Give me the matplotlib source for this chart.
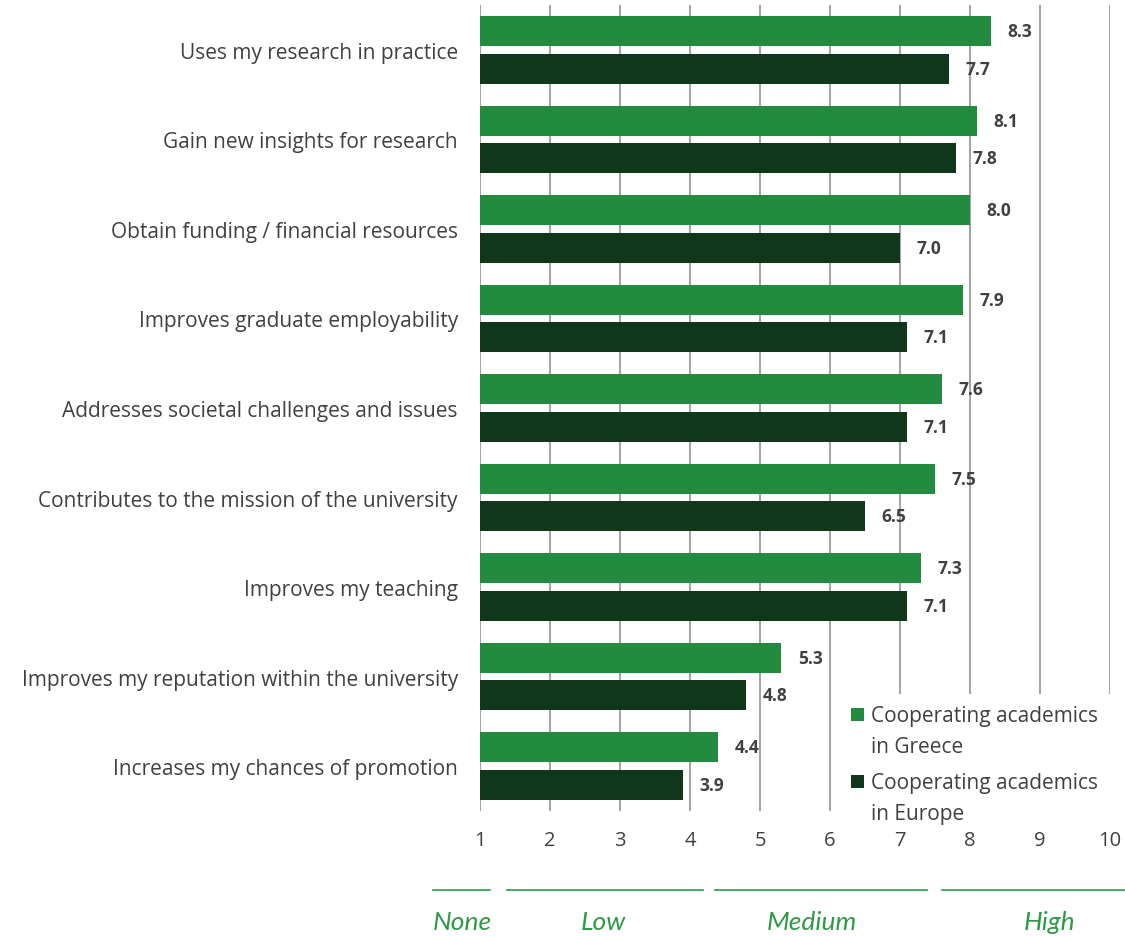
import numpy as np
import matplotlib.pyplot as plt
from matplotlib.lines import Line2D
from matplotlib.patches import Rectangle
from matplotlib.transforms import blended_transform_factory

# data
categories = ['Uses my research in practice',
              'Gain new insights for research',
              'Obtain funding / financial resources',
              'Improves graduate employability',
              'Addresses societal challenges and issues',
              'Contributes to the mission of the university',
              'Improves my teaching',
              'Improves my reputation within the university',
              'Increases my chances of promotion']
greece = [8.3, 8.1, 8.0, 7.9, 7.6, 7.5, 7.3, 5.3, 4.4]
europe = [7.7, 7.8, 7.0, 7.1, 7.1, 6.5, 7.1, 4.8, 3.9]
series_names = ['Cooperating academics\nin Greece', 'Cooperating academics\nin Europe']
xticks = [1, 2, 3, 4, 5, 6, 7, 8, 9, 10]
# scale bands under the axis: label, line start, line end, label x (scale units)
band_names = ['None', 'Low', 'Medium', 'High']
band_start = [0.33, 1.39, 4.36, 7.6]
band_end = [1.14, 4.19, 7.39, 10.21]
band_text_x = [0.74, 2.76, 5.74, 9.13]

c_gr = '#238B3F'
c_eu = '#10371A'
c_txt = '#404040'
c_band = '#2E9A44'

plt.rcParams['font.family'] = ['Open Sans', 'DejaVu Sans']

W, H = 1125, 937
fig = plt.figure(figsize=(W/100, H/100), dpi=100)
ax = fig.add_axes([480/W, 1-812/H, 630/W, 806/H])

def fx(px):
    return px / W

def fy(py):
    return 1 - py / H

y = np.arange(len(categories))
h = 0.335
off = 0.21
base = 1
g = np.array(greece) - base
e = np.array(europe) - base
ax.barh(y - off, g, height=h, left=base, color=c_gr, zorder=2)
ax.barh(y + off, e, height=h, left=base, color=c_eu, zorder=2)

for yi, v in zip(y, greece):
    ax.text(v + 0.24, yi - off, '%.1f' % v, va='center', ha='left',
            fontsize=12.5, fontweight='bold', color=c_txt, zorder=3)
for yi, v in zip(y, europe):
    ax.text(v + 0.24, yi + off, '%.1f' % v, va='center', ha='left',
            fontsize=12.5, fontweight='bold', color=c_txt, zorder=3)

ax.set_xlim(1, 10)
ax.set_ylim(len(categories) - 0.5, -0.5)
ax.set_xticks(xticks)
ax.set_yticks(y)
ax.set_yticklabels(categories, fontsize=15)
ax.tick_params(axis='both', length=0, labelcolor=c_txt)
ax.tick_params(axis='x', pad=14, labelsize=14.5)
ax.tick_params(axis='y', pad=16)
ax.xaxis.grid(True, color='#A6A6A6', linewidth=1.5, zorder=0)
ax.set_axisbelow(True)
for s in ax.spines.values():
    s.set_visible(False)

# legend drawn by hand (square sits next to the first text line)
fig.add_artist(Rectangle((fx(843), fy(815)), fx(W) - fx(843), fy(695) - fy(815),
                         transform=fig.transFigure, facecolor='white',
                         edgecolor='none', zorder=5))
for i, (name, col) in enumerate(zip(series_names, [c_gr, c_eu])):
    top = 709 + i * 67
    fig.add_artist(Rectangle((fx(851), fy(top + 13)), 13/W, 13/H,
                             transform=fig.transFigure, facecolor=col,
                             edgecolor='none', zorder=6))
    fig.text(fx(871), fy(top + 23), name, ha='left', va='center', fontsize=15,
             color=c_txt, linespacing=1.6, zorder=6)

# None / Low / Medium / High scale under the axis
tr = blended_transform_factory(ax.transData, fig.transFigure)
for name, x0, x1, xt in zip(band_names, band_start, band_end, band_text_x):
    fig.add_artist(Line2D([x0, x1], [fy(891), fy(891)], transform=tr,
                          color=c_band, linewidth=1.2))
    fig.text(xt, fy(923), name, transform=tr, ha='center', va='center',
             fontsize=19, style='italic', color=c_band, family=['Lato', 'DejaVu Sans'])

fig.savefig('out.png', dpi=100)
